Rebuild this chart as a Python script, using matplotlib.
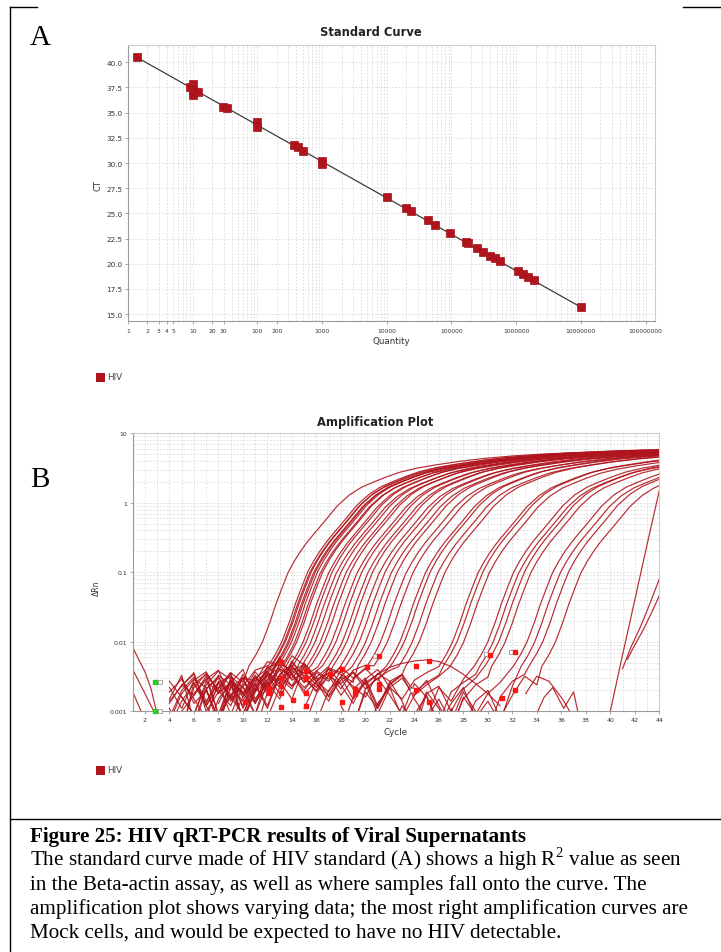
import numpy as np
import matplotlib
matplotlib.use("Agg")
import matplotlib.pyplot as plt
from matplotlib.lines import Line2D
from matplotlib.patches import Rectangle
from matplotlib.ticker import FixedLocator, FixedFormatter, NullFormatter, LogLocator

plt.rcParams['mathtext.fontset'] = 'custom'
plt.rcParams['mathtext.rm'] = 'Liberation Serif'

# ---------------- Standard curve data ----------------
STD_QTY = [1.36, 9.09, 10.0, 10.0, 10.0, 11.9, 29.7, 33.5, 99.6, 100.0,
           368, 429, 512, 1007, 1000, 9960, 19600, 23700, 42900, 56200,
           94800, 167600, 182000, 245000, 310000, 394000, 470000, 562000,
           1.08e6, 1.29e6, 1.54e6, 1.90e6, 1.0e7]
STD_CT = [40.50, 37.58, 37.82, 36.75, 37.30, 37.02, 35.59, 35.46, 34.04, 33.55,
          31.79, 31.56, 31.22, 30.23, 29.90, 26.65, 25.50, 25.23, 24.34, 23.87,
          23.05, 22.18, 22.03, 21.53, 21.19, 20.80, 20.57, 20.30,
          19.24, 18.97, 18.70, 18.41, 15.73]
FIT_SLOPE = -3.615
FIT_INTERCEPT = 40.99
STD_XTICKS = [1, 2, 3, 4, 5, 10, 20, 30, 100, 200, 1e3, 1e4, 1e5, 1e6, 1e7, 1e8]
STD_XLABELS = ['1', '2', '3', '4', '5', '10', '20', '30', '100', '200', '1000',
               '10000', '100000', '1000000', '10000000', '100000000']
STD_YTICKS = [15.0, 17.5, 20.0, 22.5, 25.0, 27.5, 30.0, 32.5, 35.0, 37.5, 40.0]

# ---------------- Amplification data ----------------
# shape of one amplification curve (cycle offset from 0.1 crossing, dRn)
TEMPLATE_OFFSET = [-3.2, -2.6, -2.1, -1.5, -1.0, -0.5, 0.0, 0.5, 1.0, 1.5, 2.0, 3.0, 4.0,
                   5.0, 6.0, 7.0, 8.0, 9.1, 10.5, 12.0, 14.0, 16.0, 18.5, 21.0, 26.0, 31.0]
TEMPLATE_VALUE = [0.0045, 0.0067, 0.010, 0.019, 0.035, 0.060, 0.100, 0.145, 0.200, 0.265,
                  0.340, 0.550, 0.900, 1.30, 1.68, 2.00, 2.35, 2.75, 3.15, 3.50, 3.95,
                  4.35, 4.75, 5.05, 5.50, 5.80]
# cycle where each trace crosses dRn = 0.1
CURVE_CT = [13.7,
            15.3, 15.45, 15.6, 15.75, 15.9, 16.1, 16.3, 16.5,
            17.0, 17.3, 17.6, 18.0, 18.4, 18.8, 19.3, 19.7, 20.2, 20.6, 21.1, 21.6, 22.1, 22.6,
            23.3, 23.9, 24.9, 25.3, 25.9, 26.5,
            29.2, 29.6, 30.1,
            32.1, 32.5, 33.0, 33.5,
            35.3, 35.9, 36.6, 37.6]
CURVE_SCALE = [1.0,
               1.02, 0.98, 1.03, 0.97, 1.0, 1.02, 0.96, 1.0,
               0.98, 1.02, 0.95, 1.0, 0.97, 1.03, 0.96, 1.0, 0.98, 1.02, 0.95, 1.0, 0.97, 1.01,
               0.96, 1.0, 0.98, 1.02, 0.97, 1.0,
               0.98, 1.02, 0.97,
               1.0, 0.96, 1.02, 0.98,
               1.0, 0.97, 1.02, 0.98]
# baseline noise before take-off (first cycle, values in units of 0.001)
BASE_START = [4, 4, 4, 4, 4, 4, 4, 4, 4, 4, 5, 5, 5, 5, 5, 6, 6, 6, 7, 7, 7, 8, 8,
              9, 9, 11, 11, 12, 12, 15, 15, 16, 18, 18, 19, 20, 22, 23, 24, 26]
BASE_MILLI = [
    [1.3, 2.4, 1.7, 3.2, 2.1, 3.6, 2.6],
    [0.8, 2.0, 3.1, 1.4, 2.6, 0.9, 2.3, 3.9],
    [2.2, 1.1, 2.8, 3.7, 1.8, 2.5, 1.2, 3.0],
    [1.5, 3.3, 0.7, 2.1, 3.0, 1.6, 3.4, 2.0, 4.2],
    [0.6, 1.4, 2.5, 3.4, 0.9, 2.8, 1.8, 3.7, 2.3],
    [1.9, 2.9, 1.5, 0.8, 2.6, 3.2, 2.2, 1.3, 3.6],
    [1.1, 0.5, 2.2, 3.5, 2.0, 1.2, 3.1, 2.7, 5.2],
    [2.7, 1.6, 0.9, 2.4, 3.8, 2.9, 0.7, 2.1, 3.3],
    [1.4, 2.3, 3.6, 1.0, 1.9, 2.6, 4.0, 1.5, 2.8, 6.1],
    [0.7, 1.8, 2.9, 2.2, 0.6, 3.1, 1.7, 2.5, 1.2, 3.4],
    [0.5, 2.6, 1.3, 3.3, 2.4, 0.8, 2.0, 4.4, 2.9],
    [1.6, 0.9, 2.7, 1.9, 3.5, 1.1, 2.6, 3.8, 5.6, 3.4],
    [2.4, 3.4, 1.2, 0.6, 2.2, 3.0, 1.4, 2.1, 4.8, 3.9],
    [1.0, 1.7, 2.9, 3.9, 1.5, 2.3, 0.9, 2.5, 3.1, 6.3],
    [3.0, 1.3, 2.0, 0.8, 2.7, 1.6, 3.3, 1.8, 2.6, 4.1, 3.6],
    [0.6, 2.1, 3.2, 1.4, 2.5, 1.9, 3.7, 2.2, 5.0, 3.2],
    [1.8, 2.9, 0.9, 1.6, 3.0, 2.4, 1.1, 3.4, 4.6, 2.6, 3.8],
    [2.5, 1.2, 2.2, 3.6, 0.7, 1.9, 2.8, 5.4, 3.5, 2.2, 3.1],
    [0.5, 1.5, 2.6, 1.8, 3.1, 2.0, 4.1, 3.0, 4.9, 2.7, 3.5],
    [1.2, 2.7, 1.6, 0.9, 2.3, 3.3, 1.8, 4.4, 2.6, 3.8, 2.9],
    [2.0, 0.8, 1.7, 2.9, 1.3, 2.6, 3.9, 2.3, 3.2, 1.9, 4.2, 3.6],
    [0.6, 2.3, 1.4, 3.0, 2.1, 4.7, 2.8, 3.6, 2.4, 1.7, 3.2],
    [1.3, 2.8, 1.9, 0.9, 3.4, 2.5, 5.3, 3.1, 2.2, 4.0, 3.4, 2.6],
    [0.7, 1.6, 3.1, 2.2, 4.1, 3.3, 2.0, 3.6, 2.7, 4.4, 3.0],
    [1.8, 0.9, 2.4, 3.7, 2.7, 1.5, 4.3, 2.9, 3.5, 2.1, 3.9, 4.6],
    [0.5, 1.9, 3.2, 2.3, 4.9, 3.1, 1.6, 2.8, 3.7, 2.4, 3.4],
    [1.4, 2.6, 1.5, 3.8, 2.9, 2.0, 3.3, 1.7, 2.9, 4.1, 2.8],
    [0.8, 2.2, 3.5, 1.8, 2.7, 4.2, 2.5, 3.6, 2.1, 3.0, 3.9],
    [1.7, 3.0, 2.1, 4.5, 2.6, 1.4, 3.2, 2.3, 1.6, 3.5, 2.7, 3.4],
    [0.6, 1.8, 3.3, 2.4, 1.3, 2.9, 4.0, 2.2, 1.5, 2.8, 3.6],
    [1.1, 2.7, 1.9, 3.9, 2.1, 3.0, 1.2, 2.5, 3.4, 1.9, 2.6, 3.3],
    [0.7, 2.0, 3.1, 1.5, 2.6, 0.9, 2.2, 3.0, 1.7, 2.4, 3.2],
    [0.5, 1.6, 2.8, 1.1, 2.4, 3.3, 1.5, 0.8, 2.2, 1.4, 2.9],
    [1.2, 0.6, 2.1, 3.0, 1.7, 0.9, 2.5, 1.6, 0.7, 1.9, 2.6, 3.4],
    [0.6, 1.9, 1.1, 2.7, 1.4, 0.5, 1.8, 2.3, 1.0, 2.1, 3.0],
    [0.4, 1.3, 2.2, 0.8, 1.7, 2.8, 1.2, 0.6, 1.5, 2.4, 3.1],
    [0.5, 1.2, 0.7, 1.9, 1.1, 0.5, 1.6, 0.9, 1.8, 2.6],
    [0.4, 0.9, 1.7, 0.6, 1.3, 2.2, 0.8, 1.4, 0.7, 2.3],
    [0.3, 0.8, 1.5, 0.7, 1.9, 1.0, 0.5, 1.6, 2.7, 3.4],
    [0.4, 1.1, 0.6, 1.4, 2.0, 0.8, 1.7, 3.2, 2.4],
]
# other traces (mock / late / early) read directly: cycles and dRn
EXTRA_CYCLES = [
    [1, 2, 2.5, 3.0],
    [1, 2, 3],
    [1, 1.8],
    [20, 21, 22, 23, 24, 25, 26, 27, 28, 29, 30, 31],
    [33.1, 34.0, 35.0, 36.1, 37.0],
    [33.5, 34.6, 35.3, 36.2, 37.0, 37.4],
    [40.0, 41.0, 42.0, 43.0, 44.0],
    [41.0, 41.7, 42.5, 43.3, 44.0],
    [41.4, 42.0, 42.7, 43.4, 44.0],
]
EXTRA_VALUES = [
    [0.0083, 0.0037, 0.0021, 0.0009],
    [0.0040, 0.0018, 0.0008],
    [0.0019, 0.0009],
    [0.0026, 0.0034, 0.0043, 0.0049, 0.0053, 0.0055, 0.0052, 0.0044, 0.0034, 0.0025, 0.0018, 0.0012],
    [0.0018, 0.0032, 0.0027, 0.0015, 0.0008],
    [0.0006, 0.0016, 0.0022, 0.0011, 0.0019, 0.0009],
    [0.0010, 0.0065, 0.040, 0.25, 1.5],
    [0.0041, 0.0085, 0.017, 0.038, 0.080],
    [0.0056, 0.0090, 0.015, 0.027, 0.046],
]
RED_MARK_CYC = [10.14, 12.13, 12.13, 13.15, 13.15, 13.15, 13.15, 13.15, 14.1, 15.14, 15.14,
                15.14, 15.14, 17.1, 18.1, 18.1, 19.16, 19.16, 20.1, 21.1, 21.1, 21.1,
                24.13, 24.13, 25.16, 25.16, 30.16, 32.19, 32.19, 31.18]
RED_MARK_VAL = [0.00137, 0.0022, 0.00183, 0.0052, 0.00305, 0.00233, 0.00183, 0.00114, 0.00146,
                0.0038, 0.00305, 0.00183, 0.0012, 0.0034, 0.0041, 0.00137, 0.0021, 0.00175,
                0.0044, 0.0063, 0.00245, 0.0021, 0.00443, 0.00202, 0.00535, 0.00135, 0.0065,
                0.0071, 0.0020, 0.00155]
GRAY_MARK_CYC = [20.8, 29.85, 31.9, 23.8]
GRAY_MARK_VAL = [0.0063, 0.0066, 0.0071, 0.0020]
GREEN_MARK_CYC = [2.85, 2.85]
GREEN_MARK_VAL = [0.0026, 0.00102]
AMP_XTICKS = list(range(2, 45, 2))
AMP_YTICKS = [0.001, 0.01, 0.1, 1, 10]
AMP_YLABELS = ['0.001', '0.01', '0.1', '1', '10']

CAPTION_TITLE = "Figure 25: HIV qRT-PCR results of Viral Supernatants"
CAPTION_LINES = [
    "The standard curve made of HIV standard (A) shows a high R$^{\\mathrm{2}}$ value as seen",
    "in the Beta-actin assay, as well as where samples fall onto the curve. The",
    "amplification plot shows varying data; the most right amplification curves are",
    "Mock cells, and would be expected to have no HIV detectable.",
]

# ---------------- figure ----------------
W, H = 721, 953
fig = plt.figure(figsize=(W / 100, H / 100), dpi=100)


def fx(x):
    return x / W


def fy(y):
    return 1 - y / H


RED = '#b0141c'
GRID = '#d8d8d8'
TXT = '#333333'


def style_axes(ax):
    for s in ['top', 'right']:
        ax.spines[s].set_color('#cccccc')
    for s in ['left', 'bottom']:
        ax.spines[s].set_color('#9a9a9a')
    for s in ax.spines.values():
        s.set_linewidth(0.8)
    ax.tick_params(which='both', length=2, width=0.5, color='#888888', labelcolor=TXT, pad=2)
    ax.tick_params(which='minor', length=0)
    ax.set_axisbelow(True)


# Standard curve
ax1 = fig.add_axes([fx(128), fy(321.7), (655 - 128) / W, (321.7 - 46) / H])
ax1.set_xscale('log')
ax1.set_xlim(1, 1.4e8)
ax1.set_ylim(14.34, 41.72)
minor_q = [k * 10 ** d for d in range(0, 9) for k in range(2, 10) if k * 10 ** d not in STD_XTICKS]
ax1.xaxis.set_major_locator(FixedLocator(STD_XTICKS))
ax1.xaxis.set_major_formatter(FixedFormatter(STD_XLABELS))
ax1.xaxis.set_minor_locator(FixedLocator(minor_q))
ax1.xaxis.set_minor_formatter(NullFormatter())
ax1.set_yticks(STD_YTICKS)
ax1.set_yticklabels(['%.1f' % v for v in STD_YTICKS])
ax1.grid(which='both', axis='x', color=GRID, lw=0.6, ls=(0, (2, 2)))
ax1.grid(which='major', axis='y', color=GRID, lw=0.6, ls=(0, (2, 2)))
style_axes(ax1)
ax1.tick_params(axis='x', labelsize=4.3, pad=3)
ax1.tick_params(axis='y', labelsize=5.2)
qline = np.array([min(STD_QTY), max(STD_QTY)])
ax1.plot(qline, FIT_INTERCEPT + FIT_SLOPE * np.log10(qline), color='#3c3c3c', lw=0.9, zorder=2)
ax1.plot(STD_QTY, STD_CT, 's', color=RED, ms=6.3, mec='#a31018', mew=0.5, zorder=3)

fig.text(fx(371), fy(33), 'Standard Curve', ha='center', va='center', fontsize=8.3,
         fontweight='bold', color='#222222')
fig.text(fx(98), fy(186), 'CT', ha='center', va='center', rotation=90, fontsize=6, color=TXT)
fig.text(fx(391), fy(342), 'Quantity', ha='center', va='center', fontsize=6.3, color=TXT)

# Amplification plot
ax2 = fig.add_axes([fx(132.7), fy(712.3), (659.3 - 132.7) / W, (712.3 - 434.3) / H])
ax2.set_yscale('log')
ax2.set_xlim(1, 44)
ax2.set_ylim(0.001, 10)
ax2.set_xticks(AMP_XTICKS)
ax2.set_xticks(range(1, 45), minor=True)
ax2.set_yticks(AMP_YTICKS)
ax2.set_yticklabels(AMP_YLABELS)
ax2.yaxis.set_minor_locator(LogLocator(base=10, subs=range(2, 10)))
ax2.yaxis.set_minor_formatter(NullFormatter())
ax2.grid(which='both', color=GRID, lw=0.6, ls=(0, (2, 2)))
style_axes(ax2)
ax2.tick_params(axis='both', labelsize=4.5)

tmpl_off = np.array(TEMPLATE_OFFSET)
tmpl_val = np.array(TEMPLATE_VALUE)
for ct, sc, st, base in zip(CURVE_CT, CURVE_SCALE, BASE_START, BASE_MILLI):
    bc = st + np.arange(len(base))
    bv = np.array(base) * 1e-3
    rc = ct + tmpl_off
    rv = tmpl_val * sc
    keep = rc > bc[-1] + 0.2
    cyc = np.concatenate([bc, rc[keep]])
    val = np.concatenate([bv, rv[keep]])
    ax2.plot(cyc, val, color=RED, lw=0.85, alpha=0.9, zorder=2)
for cyc, val in zip(EXTRA_CYCLES, EXTRA_VALUES):
    ax2.plot(cyc, val, color=RED, lw=0.85, alpha=0.9, zorder=2)

ax2.plot(GRAY_MARK_CYC, GRAY_MARK_VAL, 's', ms=3.2, mfc='white', mec='#999999', mew=0.6, zorder=3)
ax2.plot(RED_MARK_CYC, RED_MARK_VAL, 's', ms=2.8, color='#ff1414', mec='#ff1414', zorder=4)
ax2.plot([c + 0.35 for c in GREEN_MARK_CYC], GREEN_MARK_VAL, 's', ms=3.2, mfc='white',
         mec='#999999', mew=0.6, zorder=3, clip_on=False)
ax2.plot(GREEN_MARK_CYC, GREEN_MARK_VAL, 's', ms=3.0, color='#22dd22', mec='#22cc22', zorder=4,
         clip_on=False)

fig.text(fx(375), fy(423), 'Amplification Plot', ha='center', va='center', fontsize=8.3,
         fontweight='bold', color='#222222')
fig.text(fx(96), fy(588), '\u0394Rn', ha='center', va='center', rotation=90, fontsize=5.5, color=TXT)
fig.text(fx(395), fy(733), 'Cycle', ha='center', va='center', fontsize=6.3, color=TXT)

# legends
for ly in (378, 771):
    fig.add_artist(Rectangle((fx(95.5), fy(382.5 + ly - 378)), 9 / W, 9 / H,
                             transform=fig.transFigure, color=RED, lw=0))
    fig.text(fx(107), fy(ly), 'HIV', ha='left', va='center', fontsize=6.3, color='#444444')

# panel letters
fig.text(fx(40), fy(38), 'A', ha='center', va='center', fontsize=21, family='Liberation Serif')
fig.text(fx(40), fy(480), 'B', ha='center', va='center', fontsize=21, family='Liberation Serif')

# frame lines
def hline(x0, x1, y):
    fig.add_artist(Line2D([fx(x0), fx(x1)], [fy(y), fy(y)], transform=fig.transFigure,
                          color='black', lw=1.0))


def vline(x, y0, y1):
    fig.add_artist(Line2D([fx(x), fx(x)], [fy(y0), fy(y1)], transform=fig.transFigure,
                          color='black', lw=1.0))


hline(10, 37, 8)
hline(683, 721, 8)
vline(10, 8, 953)
hline(10, 721, 820)

# caption
CAP_SIZE = 15.2
fig.text(fx(30), fy(842), CAPTION_TITLE, ha='left', va='baseline', fontsize=CAP_SIZE,
         fontweight='bold', family='Liberation Serif')
for i, line in enumerate(CAPTION_LINES):
    fig.text(fx(30), fy(866 + 24 * i), line, ha='left', va='baseline', fontsize=CAP_SIZE,
             family='Liberation Serif')

fig.savefig('out.png', dpi=100)
